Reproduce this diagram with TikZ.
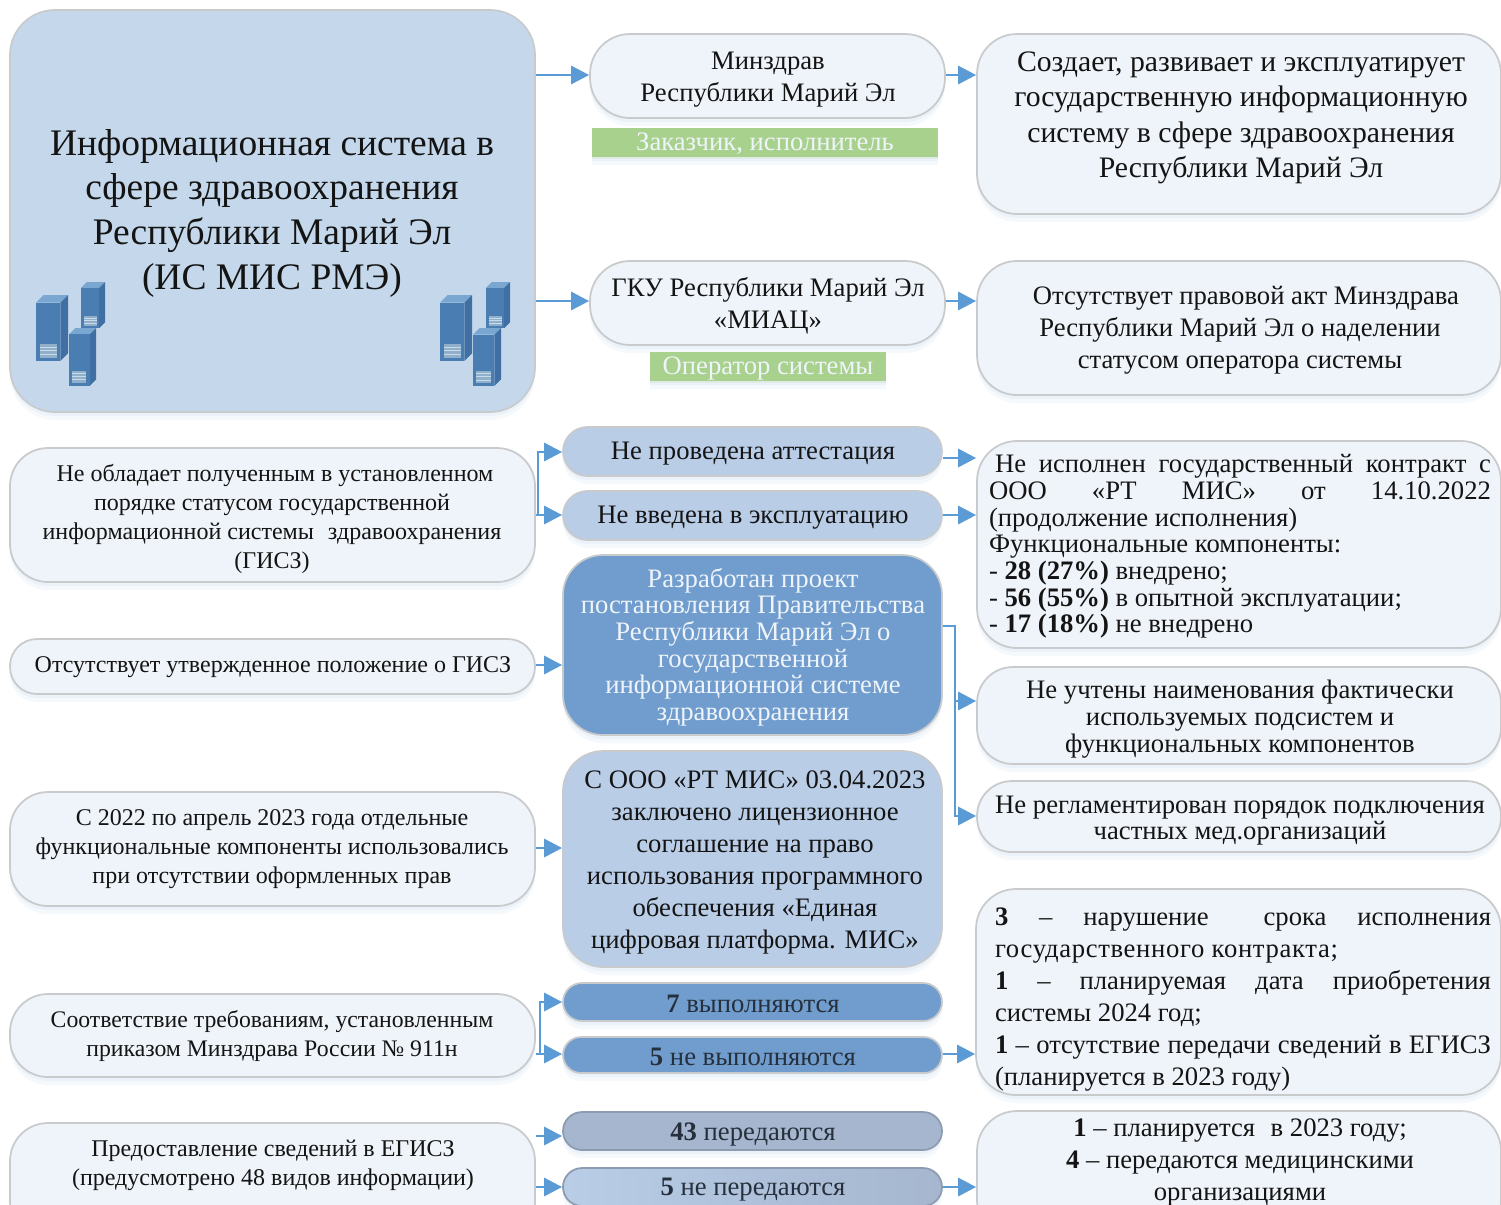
\documentclass[tikz,border=0pt]{standalone}
\usepackage{fontspec}
\setmainfont{Liberation Serif}
\usetikzlibrary{arrows.meta,shadows}
\definecolor{arrowc}{HTML}{5B9BD5}
\definecolor{edgec}{HTML}{C8CACC}
\definecolor{mainc}{HTML}{C5D8EB}
\definecolor{lightc}{HTML}{EFF4FA}
\definecolor{midc}{HTML}{B9CDE7}
\definecolor{darkc}{HTML}{709DCD}
\definecolor{grayc}{HTML}{A5B6CE}
\definecolor{greenc}{HTML}{A9D18E}
\definecolor{inkc}{HTML}{141414}
\definecolor{pillink}{HTML}{26303C}
\definecolor{srvf}{HTML}{4A7EB3}
\definecolor{srvt}{HTML}{7AA6D2}
\definecolor{srvs}{HTML}{3F6FA3}
\definecolor{srvg}{HTML}{8FAFCB}
\definecolor{srvl}{HTML}{C9DAE8}
\newcommand{\F}[2]{\def\nodefs{\fontsize{#1}{#2}\selectfont}}
\F{20}{24}
\newlength{\jw}
\newcommand{\jl}[1]{\makebox[\jw][s]{#1}}
% name, x0,y0,x1,y1, radius, style, text centre, text
\newcommand{\bx}[9]{%
  \pgfmathsetmacro{\bcx}{(#2+#4)/2}\pgfmathsetmacro{\bcy}{(#3+#5)/2}%
  \pgfmathsetmacro{\bw}{(#4-#2)*0.75}\pgfmathsetmacro{\bh}{(#5-#3)*0.75}\pgfmathsetmacro{\br}{#6*0.75}%
  \node[boxbase,#7,minimum width=\bw pt,minimum height=\bh pt,rounded corners=\br pt] (#1) at (\bcx,\bcy) {};%
  \node[txt] (#1-t) at (#8) {#9};%
}
\newcommand{\srv}[4]{%
  \pgfmathsetmacro{\sd}{(#3-#1)*0.24}%
  \pgfmathsetmacro{\sa}{#1+\sd}\pgfmathsetmacro{\sb}{#2+\sd}%
  \pgfmathsetmacro{\sc}{#3-\sd}\pgfmathsetmacro{\se}{#4-\sd}%
  \fill[srvt] (#1,\sb) -- (\sa,#2) -- (#3,#2) -- (\sc,\sb) -- cycle;
  \fill[srvs] (\sc,\sb) -- (#3,#2) -- (#3,\se) -- (\sc,#4) -- cycle;
  \fill[srvf] (#1,\sb) rectangle (\sc,#4);
  \pgfmathsetmacro{\ga}{#1+(\sc-#1)*0.15}\pgfmathsetmacro{\gb}{\sc-(\sc-#1)*0.15}%
  \pgfmathsetmacro{\gc}{#4-(#4-\sb)*0.30}\pgfmathsetmacro{\gd}{#4-(#4-\sb)*0.06}%
  \fill[srvg] (\ga,\gc) rectangle (\gb,\gd);
  \pgfmathsetmacro{\gm}{(\gc+\gd)/2}\pgfmathsetmacro{\gq}{(\gc+\gm)/2}\pgfmathsetmacro{\gr}{(\gm+\gd)/2}%
  \draw[srvl,line width=.5pt] (\ga,\gq) -- (\gb,\gq) (\ga,\gm) -- (\gb,\gm) (\ga,\gr) -- (\gb,\gr);
}
\tikzset{
  x=0.75pt,y=-0.75pt,
  softshade/.style={drop shadow={shadow xshift=0pt,shadow yshift=-3pt,opacity=.07,fill=arrowc},
                    drop shadow={shadow xshift=0pt,shadow yshift=-6pt,opacity=.05,fill=arrowc}},
  boxbase/.style={draw=edgec,line width=1.3pt,inner sep=0pt,softshade},
  lightb/.style={fill=lightc},
  mainb/.style={fill=mainc},
  midb/.style={fill=midc},
  darkb/.style={fill=darkc},
  grayb/.style={fill=grayc,draw=grayc!85!black},
  fadeb/.style={left color=midc,right color=grayc,draw=grayc!85!black},
  greenb/.style={fill=greenc,draw=none,drop shadow={shadow xshift=0pt,shadow yshift=-1.5pt,opacity=.18,fill=greenc}},
  txt/.style={align=center,inner sep=0pt,text=inkc,font=\nodefs,yshift=-1.5pt},
  conn/.style={draw=arrowc,line width=2.2pt,-{Triangle[length=13.5pt,width=13.5pt]}},
}
\begin{document}
\begin{tikzpicture}
\useasboundingbox (0,0) rectangle (1501,1204);
\clip (0,0) rectangle (1501,1204);
\fill[white] (0,0) rectangle (1501,1204);

\F{28.1}{33.5}
\bx{main}{10}{10}{535}{412}{45}{mainb}{272,211}{Информационная система в\\сфере здравоохранения\\Республики Марий Эл\\(ИС МИС РМЭ)}
\srv{36}{295}{68}{361}\srv{81}{282}{105}{328}\srv{69}{328}{96}{386}
\srv{440}{295}{472}{361}\srv{486}{282}{510}{328}\srv{473}{328}{501}{386}

\F{20}{24}
\bx{b1}{590}{34}{945}{118}{40}{lightb}{768,78}{Минздрав\\Республики Марий Эл}
\bx{g1}{592}{128}{938}{157}{0}{greenb}{765,142}{\color{lightc}Заказчик, исполнитель}
\F{22.3}{26.5}
\bx{r1}{977}{34}{1501}{214}{40}{lightb}{1241,116}{Создает, развивает и эксплуатирует\\государственную информационную\\систему в сфере здравоохранения\\Республики Марий Эл}
\F{20}{24}
\bx{b2}{590}{261}{945}{345}{40}{lightb}{768,304}{ГКУ Республики Марий Эл\\«МИАЦ»}
\bx{g2}{650}{352}{886}{381}{0}{greenb}{768,366}{\color{lightc}Оператор системы}
\bx{r2}{977}{261}{1501}{395}{40}{lightb}{1240,328}{\hspace*{9pt}Отсутствует правовой акт Минздрава\\Республики Марий Эл о наделении\\статусом оператора системы}

\F{18}{21.6}
\bx{l1}{10}{448}{535}{582}{38}{lightb}{272,517}{\hspace*{4.5pt}Не обладает полученным в установленном\\порядке статусом государственной\\информационной системы\, \,здравоохранения\\(ГИСЗ)}
\F{20}{24}
\bx{c1}{563}{427}{942}{476}{24.5}{midb}{753,452}{Не проведена аттестация}
\bx{c2}{563}{491}{942}{540}{24.5}{midb}{753,516}{Не введена в эксплуатацию}
\F{20}{20}
\bx{r3}{977}{441}{1501}{648}{40}{lightb}{1240,544.5}{\setlength{\jw}{376.5pt}\begin{minipage}{376.5pt}\raggedright
\hspace*{4.5pt}\makebox[372pt][s]{Не исполнен государственный контракт с}\\
\jl{ООО \hfill «РТ \hfill МИС» \hfill от \hfill 14.10.2022}\\
(продолжение исполнения)\\
Функциональные компоненты:\\
- \textbf{28 (27\%)} внедрено;\\
- \textbf{56 (55\%)} в опытной эксплуатации;\\
- \textbf{17 (18\%)} не внедрено\end{minipage}}

\bx{c3}{563}{555}{942}{735}{40}{darkb}{753,645}{\color{lightc}Разработан проект\\\color{lightc}постановления Правительства\\\color{lightc}Республики Марий Эл о\\\color{lightc}государственной\\\color{lightc}информационной системе\\\color{lightc}здравоохранения}
\F{18}{21.6}
\bx{l2}{10}{639}{535}{694}{27}{lightb}{273,665}{Отсутствует утвержденное положение о ГИСЗ}
\F{20}{20}
\bx{r4}{977}{667}{1501}{764}{36}{lightb}{1240,717}{Не учтены наименования фактически\\используемых подсистем и\\функциональных компонентов}
\bx{r5}{977}{781}{1501}{852}{35}{lightb}{1240,818.5}{Не регламентирован порядок подключения\\частных мед.организаций}

\F{20}{24}
\bx{c4}{563}{751}{942}{967}{40}{midb}{755,860}{С ООО «РТ МИС» 03.04.2023\\заключено лицензионное\\соглашение на право\\использования программного\\обеспечения «Единая\\цифровая платформа. МИС»}
\F{18}{21.6}
\bx{l3}{10}{792}{535}{906}{38}{lightb}{272,847}{С 2022 по апрель 2023 года отдельные\\функциональные компоненты использовались\\при отсутствии оформленных прав}
\F{17.8}{21.4}
\bx{l4}{10}{994}{535}{1077}{38}{lightb}{272,1034}{Соответствие требованиям, установленным\\приказом Минздрава России № 911н}
\F{20}{24}
\bx{c5}{563}{983}{942}{1021}{19}{darkb}{753,1001.5}{\color{pillink}\textbf{7} выполняются}
\bx{c6}{563}{1037}{942}{1073}{18}{darkb}{753,1054.5}{\color{pillink}\textbf{5} не выполняются}
\bx{r6}{976}{889}{1501}{1095}{40}{lightb}{1243,998}{\setlength{\jw}{372pt}\begin{minipage}{372pt}\raggedright
\jl{\textbf{3} \hfill – \hfill нарушение \hfill\hfill срока \hfill исполнения}\\
{\addfontfeature{LetterSpace=2.5}государственного контракта;}\\
\jl{\textbf{1} \hfill – \hfill планируемая \hfill дата \hfill приобретения}\\
системы 2024 год;\\
\jl{\textbf{1} – отсутствие передачи сведений в ЕГИСЗ}\\
(планируется в 2023 году)\end{minipage}}

\F{18}{21.6}
\bx{l5}{10}{1123}{535}{1240}{38}{lightb}{273,1163}{Предоставление сведений в ЕГИСЗ\\(предусмотрено 48 видов информации)}
\F{20}{24}
\bx{c7}{563}{1112}{942}{1150}{19}{grayb}{753,1132}{\color{pillink}\textbf{43} передаются}
\bx{c8}{563}{1168}{942}{1206}{19}{fadeb}{753,1188}{\color{pillink}\textbf{5} не передаются}
\bx{r7}{977}{1111}{1501}{1240}{40}{lightb}{1240,1160}{\textbf{1} – планируется\, \,в 2023 году;\\\textbf{4} – передаются медицинскими\\организациями}

\coordinate (k1) at (538,515);
\coordinate (k2) at (955,626);
\coordinate (k3) at (540,1054);
\draw[conn] (main.east|-0,75) -- (b1.west|-0,75);
\draw[conn] (main.east|-0,301) -- (b2.west|-0,301);
\draw[conn] (b1.east|-0,75) -- (r1.west|-0,75);
\draw[conn] (b2.east|-0,301) -- (r2.west|-0,301);
\draw[conn] (l1.east|-k1) -- (c2.west|-k1);
\draw[conn] (l1.east|-k1) -- (k1) -- (k1|-0,452) -- (c1.west|-0,452);
\draw[conn] (c1.east|-0,458) -- (r3.west|-0,458);
\draw[conn] (c2.east|-0,515) -- (r3.west|-0,515);
\draw[conn] (l2.east|-0,665) -- (c3.west|-0,665);
\draw[conn] (c3.east|-k2) -- (k2) -- (k2|-0,701) -- (r4.west|-0,701);
\draw[conn] (c3.east|-k2) -- (k2) -- (k2|-0,816) -- (r5.west|-0,816);
\draw[conn] (l3.east|-0,848) -- (c4.west|-0,848);
\draw[conn] (l4.east|-k3) -- (c6.west|-k3);
\draw[conn] (l4.east|-k3) -- (k3) -- (k3|-0,1002) -- (c5.west|-0,1002);
\draw[conn] (c6.east|-0,1054) -- (r6.west|-0,1054);
\draw[conn] (l5.east|-0,1136) -- (c7.west|-0,1136);
\draw[conn] (l5.east|-0,1187) -- (c8.west|-0,1187);
\draw[conn] (c8.east|-0,1187) -- (r7.west|-0,1187);
\end{tikzpicture}
\end{document}
